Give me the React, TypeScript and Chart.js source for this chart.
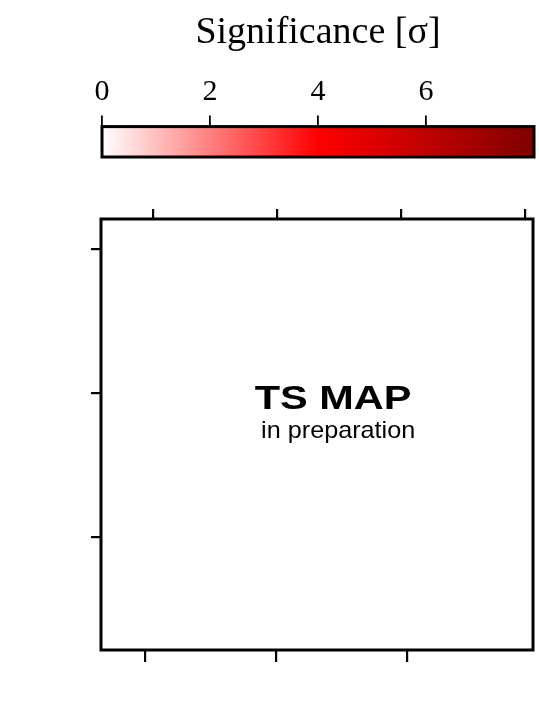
import React, { useEffect, useRef } from "react";
import { Chart, registerables } from "chart.js";

Chart.register(...registerables);

// ---- colour bar ----
const CBAR_TITLE = "Significance [σ]";
const CBAR_MIN = 0;
const CBAR_MAX = 8;
const CBAR_TICKS = [0, 2, 4, 6];
const CBAR_STOPS = [0, 0.5, 1];
const CBAR_COLORS = ["#ffffff", "#ff0000", "#800000"];

// ---- map axes (no labels shown) ----
const X_BOTTOM_RANGE = [-1.334, 1.961];
const X_BOTTOM_TICKS = [-1, 0, 1];
const X_TOP_RANGE = [-1.418, 2.066];
const X_TOP_TICKS = [-1, 0, 1, 2];
const Y_LEFT_RANGE = [-1.79, 1.213];
const Y_LEFT_TICKS = [-1, 0, 1];

// ---- placeholder text ----
const PLACEHOLDER_TITLE = "TS MAP";
const PLACEHOLDER_SUB = "in preparation";

const W = 539;
const H = 704;
const SERIF = "'Liberation Serif', 'DejaVu Serif', serif";
const SANS = "'Liberation Sans', Arial, sans-serif";

const fixTicks = (vals: number[]) => (scale: any) => {
  scale.ticks = vals.map((v) => ({ value: v }));
};

const cbarPlugin = {
  id: "cbarPlugin",
  beforeDatasetsDraw(chart: any) {
    const { ctx, chartArea: a } = chart;
    const g = ctx.createLinearGradient(a.left, 0, a.right, 0);
    CBAR_STOPS.forEach((s, i) => g.addColorStop(s, CBAR_COLORS[i]));
    ctx.save();
    ctx.fillStyle = g;
    ctx.fillRect(a.left, a.top, a.right - a.left, a.bottom - a.top);
    ctx.restore();
  },
  afterDraw(chart: any) {
    const { ctx, chartArea: a } = chart;
    ctx.save();
    ctx.strokeStyle = "#000";
    ctx.lineWidth = 3;
    ctx.strokeRect(a.left, a.top, a.right - a.left, a.bottom - a.top);
    ctx.restore();
  },
};

const mapPlugin = {
  id: "mapPlugin",
  afterDraw(chart: any) {
    const { ctx, chartArea: a } = chart;
    const w = a.right - a.left;
    const h = a.bottom - a.top;
    ctx.save();
    ctx.strokeStyle = "#000";
    ctx.lineWidth = 3;
    ctx.strokeRect(a.left, a.top, w, h);
    ctx.fillStyle = "#000";
    ctx.textAlign = "center";
    ctx.textBaseline = "alphabetic";

    ctx.save();
    ctx.translate(a.left + 0.537 * w, a.top + 0.44 * h);
    ctx.scale(1.22, 1);
    ctx.font = `bold 34px ${SANS}`;
    ctx.fillText(PLACEHOLDER_TITLE, 0, 0);
    ctx.restore();

    ctx.save();
    ctx.translate(a.left + 0.549 * w, a.top + 0.508 * h);
    ctx.scale(1.05, 1);
    ctx.font = `24px ${SANS}`;
    ctx.fillText(PLACEHOLDER_SUB, 0, 0);
    ctx.restore();

    ctx.restore();
  },
};

export default function App() {
  const cbarRef = useRef<HTMLCanvasElement | null>(null);
  const mapRef = useRef<HTMLCanvasElement | null>(null);

  useEffect(() => {
    const cbar = new Chart(cbarRef.current as HTMLCanvasElement, {
      type: "scatter",
      data: { datasets: [{ data: [] }] },
      plugins: [cbarPlugin],
      options: {
        animation: false,
        responsive: false,
        devicePixelRatio: 1,
        events: [],
        layout: { padding: { left: 102, right: 5, top: 0, bottom: H - 157 } },
        plugins: {
          legend: { display: false },
          tooltip: { enabled: false },
          title: {
            display: true,
            text: CBAR_TITLE,
            color: "#000",
            font: { family: SERIF, size: 38, weight: "normal" },
            padding: { top: 10, bottom: 14 },
          },
        },
        scales: {
          x: {
            type: "linear",
            position: "top",
            min: CBAR_MIN,
            max: CBAR_MAX,
            afterBuildTicks: fixTicks(CBAR_TICKS),
            ticks: {
              color: "#000",
              font: { family: SERIF, size: 30 },
              padding: 5,
              maxRotation: 0,
            },
            grid: {
              drawOnChartArea: false,
              tickLength: 11,
              color: "#000",
              lineWidth: 1.8,
            },
            border: { display: false },
          },
          y: { display: false, min: 0, max: 1 },
        },
      },
    } as any);

    const map = new Chart(mapRef.current as HTMLCanvasElement, {
      type: "scatter",
      data: { datasets: [{ data: [] }] },
      plugins: [mapPlugin],
      options: {
        animation: false,
        responsive: false,
        devicePixelRatio: 1,
        events: [],
        layout: { padding: { left: 91, right: 6, top: 209, bottom: 42 } },
        plugins: { legend: { display: false }, tooltip: { enabled: false } },
        scales: {
          x: {
            type: "linear",
            position: "bottom",
            min: X_BOTTOM_RANGE[0],
            max: X_BOTTOM_RANGE[1],
            afterBuildTicks: fixTicks(X_BOTTOM_TICKS),
            ticks: { display: false },
            grid: { drawOnChartArea: false, tickLength: 12, color: "#000", lineWidth: 2.2 },
            border: { display: false },
          },
          x2: {
            type: "linear",
            position: "top",
            min: X_TOP_RANGE[0],
            max: X_TOP_RANGE[1],
            afterBuildTicks: fixTicks(X_TOP_TICKS),
            ticks: { display: false },
            grid: { drawOnChartArea: false, tickLength: 10, color: "#000", lineWidth: 2.2 },
            border: { display: false },
          },
          y: {
            type: "linear",
            position: "left",
            min: Y_LEFT_RANGE[0],
            max: Y_LEFT_RANGE[1],
            afterBuildTicks: fixTicks(Y_LEFT_TICKS),
            ticks: { display: false },
            grid: { drawOnChartArea: false, tickLength: 10, color: "#000", lineWidth: 2.2 },
            border: { display: false },
          },
        },
      },
    } as any);

    return () => {
      cbar.destroy();
      map.destroy();
    };
  }, []);

  const style: React.CSSProperties = {
    position: "absolute",
    left: 0,
    top: 0,
    width: W,
    height: H,
  };

  return (
    <div style={{ position: "absolute", left: 0, top: 0, width: W, height: H, background: "#fff" }}>
      <canvas ref={mapRef} width={W} height={H} style={style} />
      <canvas ref={cbarRef} width={W} height={H} style={style} />
    </div>
  );
}
